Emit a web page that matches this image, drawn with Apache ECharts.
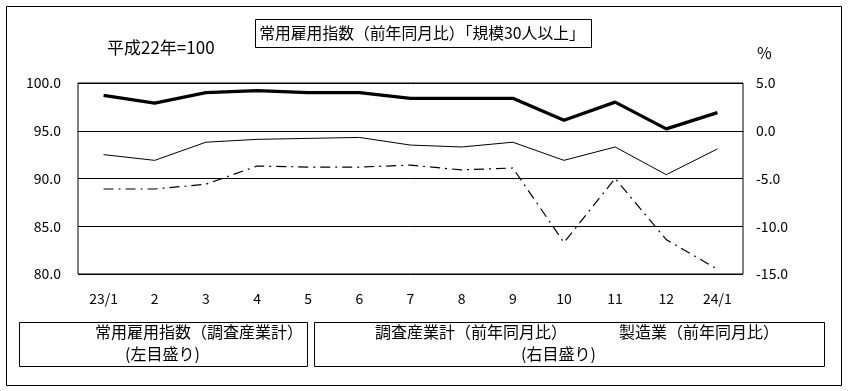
<!DOCTYPE html>
<html>
<head>
<meta charset="utf-8">
<script src="https://cdn.jsdelivr.net/npm/echarts@6/dist/echarts.min.js"></script>
<style>
html,body{margin:0;padding:0;background:#fff;}
#c{width:848px;height:391px;}
</style>
</head>
<body>
<div id="c"></div>
<script>
var categories = ['23/1','2','3','4','5','6','7','8','9','10','11','12','24/1'];
var indexTotal = [98.7, 97.9, 99.0, 99.2, 99.0, 99.0, 98.4, 98.4, 98.4, 96.1, 98.0, 95.2, 96.9];
var yoyTotal = [-2.5, -3.1, -1.2, -0.9, -0.8, -0.7, -1.5, -1.7, -1.2, -3.1, -1.7, -4.6, -1.9];
var yoyManuf = [-6.1, -6.1, -5.6, -3.7, -3.8, -3.8, -3.6, -4.1, -3.9, -11.7, -5.0, -11.4, -14.5];
var leftTicks = [80, 85, 90, 95, 100];
var rightTicks = [-15, -10, -5, 0, 5];

var FONT = '"Noto Sans CJK JP", "Noto Sans", sans-serif';
var chart = echarts.init(document.getElementById('c'), null, {renderer: 'canvas'});
var option = {
  animation: false,
  backgroundColor: '#fff',
  grid: {left: 78, right: 105, top: 83, bottom: 117, show: true, borderColor: '#000', borderWidth: 1, backgroundColor: 'transparent'},
  xAxis: {
    type: 'category', data: categories, boundaryGap: true,
    axisLine: {lineStyle: {color: '#000', width: 1}},
    axisTick: {inside: true, length: 5, lineStyle: {color: '#000'}},
    axisLabel: {color: '#000', fontSize: 14, fontFamily: FONT, margin: 18}
  },
  yAxis: [
    {type: 'value', min: leftTicks[0], max: leftTicks[leftTicks.length-1], interval: 5, position: 'left',
     axisLine: {show: false}, axisTick: {show: false},
     splitLine: {show: true, lineStyle: {color: '#000', width: 1}},
     axisLabel: {color: '#000', fontSize: 14, fontFamily: FONT, margin: 17, formatter: function(v){return v.toFixed(1);}}},
    {type: 'value', min: rightTicks[0], max: rightTicks[rightTicks.length-1], interval: 5, position: 'right',
     axisLine: {show: false}, axisTick: {show: false}, splitLine: {show: false},
     axisLabel: {color: '#000', fontSize: 14, fontFamily: FONT, margin: 13, formatter: function(v){return v.toFixed(1);}}}
  ],
  series: [
    {name: '常用雇用指数(調査産業計)', type: 'line', yAxisIndex: 0, data: indexTotal, symbol: 'none',
     lineStyle: {color: '#000', width: 3.3}},
    {name: '調査産業計(前年同月比)', type: 'line', yAxisIndex: 1, data: yoyTotal, symbol: 'none',
     lineStyle: {color: '#000', width: 1}},
    {name: '製造業(前年同月比)', type: 'line', yAxisIndex: 1, data: yoyManuf, symbol: 'none',
     lineStyle: {color: '#000', width: 1.2, type: [10, 5, 2, 5]}}
  ],
  graphic: [
    {type: 'rect', shape: {x: 6.5, y: 6.5, width: 835, height: 379}, style: {fill: 'none', stroke: '#000', lineWidth: 1}, silent: true},
    {type: 'rect', shape: {x: 255.5, y: 19.5, width: 336, height: 28}, style: {fill: '#fff', stroke: '#000', lineWidth: 1}},
    {type: 'text', x: 422, y: 33, style: {text: '常用雇用指数（前年同月比）「規模30人以上」', font: '15.8px ' + FONT, fill: '#000', align: 'center', verticalAlign: 'middle'}},
    {type: 'text', x: 107, y: 48, style: {text: '平成22年=100', font: '17px ' + FONT, fill: '#000', align: 'left', verticalAlign: 'middle'}},
    {type: 'text', x: 757, y: 53, style: {text: '%', font: '16px ' + FONT, fill: '#000', align: 'left', verticalAlign: 'middle'}},
    {type: 'rect', shape: {x: 19.5, y: 322.5, width: 288, height: 44}, style: {fill: 'none', stroke: '#000', lineWidth: 1}},
    {type: 'rect', shape: {x: 314.5, y: 322.5, width: 510, height: 44}, style: {fill: 'none', stroke: '#000', lineWidth: 1}},
    {type: 'text', x: 95, y: 332, style: {text: '常用雇用指数（調査産業計）', font: '16px ' + FONT, fill: '#000', align: 'left', verticalAlign: 'middle'}},
    {type: 'text', x: 125, y: 354, style: {text: '(左目盛り)', font: '16px ' + FONT, fill: '#000', align: 'left', verticalAlign: 'middle'}},
    {type: 'text', x: 375, y: 332, style: {text: '調査産業計（前年同月比）', font: '16px ' + FONT, fill: '#000', align: 'left', verticalAlign: 'middle'}},
    {type: 'text', x: 619, y: 332, style: {text: '製造業（前年同月比）', font: '16px ' + FONT, fill: '#000', align: 'left', verticalAlign: 'middle'}},
    {type: 'text', x: 521, y: 354, style: {text: '(右目盛り)', font: '16px ' + FONT, fill: '#000', align: 'left', verticalAlign: 'middle'}}
  ]
};
chart.setOption(option);
</script>
</body>
</html>
